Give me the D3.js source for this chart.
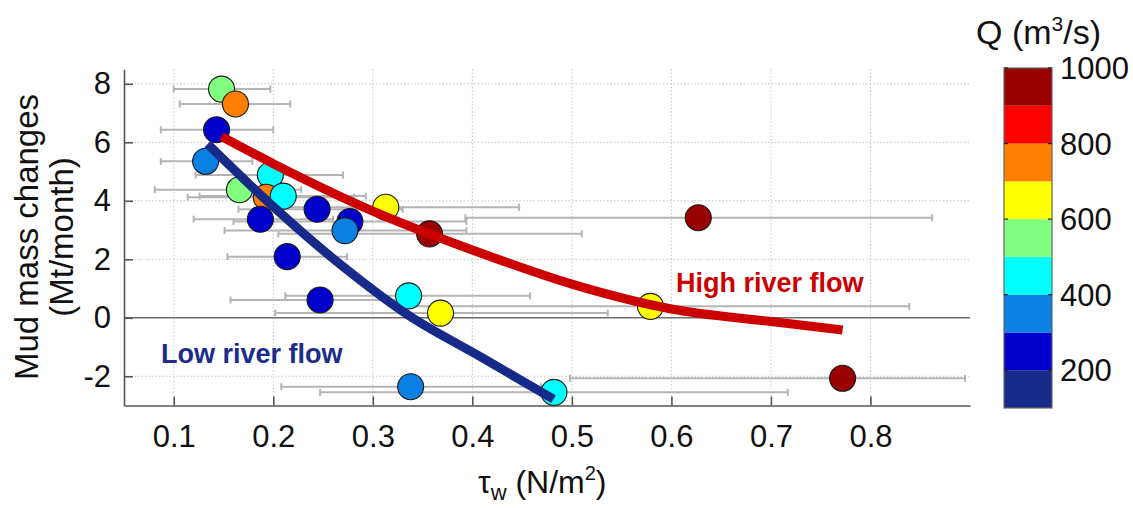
<!DOCTYPE html>
<html>
<head>
<meta charset="utf-8">
<script src="https://cdn.jsdelivr.net/npm/d3@7"></script>
<style>
  body { margin: 0; background: #fff; }
  text { font-family: "Liberation Sans", Arial, Helvetica, sans-serif; }
</style>
</head>
<body>
<svg id="chart" width="1133" height="508"></svg>
<script>
// Wave-induced bed shear stress (N/m2): mean and range per month
const tauW  = [0.148, 0.162, 0.143, 0.132, 0.197, 0.166, 0.193, 0.210, 0.244, 0.187, 0.277, 0.272, 0.214, 0.313, 0.357, 0.627, 0.247, 0.336, 0.368, 0.579, 0.338, 0.482, 0.772];
const tauLo = [0.100, 0.106, 0.087, 0.087, 0.122, 0.081, 0.114, 0.126, 0.165, 0.120, 0.160, 0.151, 0.154, 0.210, 0.205, 0.393, 0.157, 0.212, 0.202, 0.320, 0.208, 0.247, 0.498];
const tauHi = [0.197, 0.217, 0.200, 0.179, 0.270, 0.228, 0.281, 0.293, 0.330, 0.260, 0.394, 0.394, 0.274, 0.447, 0.510, 0.862, 0.340, 0.458, 0.536, 0.839, 0.469, 0.717, 0.895];
// Monthly mud mass change (Mt/month)
const mudChange = [7.82, 7.31, 6.43, 5.35, 4.88, 4.38, 4.12, 4.16, 3.71, 3.37, 3.29, 2.98, 2.09, 3.78, 2.87, 3.42, 0.61, 0.75, 0.16, 0.39, -2.36, -2.55, -2.07];
// Mean river discharge Q (m3/s)
const riverQ = [550, 750, 250, 350, 450, 550, 750, 450, 250, 250, 250, 350, 250, 650, 950, 950, 250, 450, 650, 650, 350, 450, 950];

// Fitted trends
const highFlowTau = [0.148, 0.20, 0.30, 0.40, 0.50, 0.60, 0.70, 0.772];
const highFlowMud = [6.20, 5.27, 3.65, 2.32, 1.15, 0.30, -0.13, -0.42];
const lowFlowTau  = [0.134, 0.20, 0.270, 0.335, 0.408, 0.4815];
const lowFlowMud  = [5.94, 3.80, 1.75, 0.10, -1.33, -2.78];

// Axis ticks
const xTicks = [0.1, 0.2, 0.3, 0.4, 0.5, 0.6, 0.7, 0.8];
const yTicks = [-2, 0, 2, 4, 6, 8];

// Discharge colour classes (100 m3/s wide, 100 to 1000)
const qBreaks = [200, 300, 400, 500, 600, 700, 800, 900];
const qColors = ["#162a8a", "#0000cc", "#0a80e2", "#00ffff", "#80ff80", "#ffff00", "#ff8000", "#ff0000", "#990000"];
const qTicks  = [200, 400, 600, 800, 1000];

const svg = d3.select("#chart");

const x = d3.scaleLinear().domain([0.05, 0.9]).range([124, 970]);
const y = d3.scaleLinear().domain([-3, 8.5]).range([405.5, 69.2]);
const qColor = d3.scaleThreshold().domain(qBreaks).range(qColors);

// Dotted grid
const grid = svg.append("g");
grid.selectAll("line.gx").data(xTicks).join("line")
  .attr("x1", d => x(d)).attr("x2", d => x(d))
  .attr("y1", y.range()[1]).attr("y2", y.range()[0])
  .attr("stroke", "#c4c4c4").attr("stroke-width", 1).attr("stroke-dasharray", "1.5,2");
grid.selectAll("line.gy").data(yTicks.filter(d => d !== 0)).join("line")
  .attr("x1", x.range()[0]).attr("x2", x.range()[1])
  .attr("y1", d => y(d)).attr("y2", d => y(d))
  .attr("stroke", "#c4c4c4").attr("stroke-width", 1).attr("stroke-dasharray", "1.5,2");

// Zero line
svg.append("line")
  .attr("x1", x.range()[0]).attr("x2", x.range()[1])
  .attr("y1", y(0)).attr("y2", y(0))
  .attr("stroke", "#6e6e6e").attr("stroke-width", 1.6);

// Axes
const xAxis = svg.append("g").attr("transform", `translate(0,${y.range()[0]})`)
  .call(d3.axisBottom(x).tickValues(xTicks).tickSize(-9).tickSizeOuter(0).tickPadding(19).tickFormat(d3.format(".1f")));
const yAxis = svg.append("g").attr("transform", `translate(${x.range()[0]},0)`)
  .call(d3.axisLeft(y).tickValues(yTicks).tickSize(-9).tickSizeOuter(0).tickPadding(13).tickFormat(d => String(d)));
[xAxis, yAxis].forEach(g => {
  g.select(".domain").attr("stroke", "#555").attr("stroke-width", 1.6);
  g.selectAll(".tick line").attr("stroke", "#555").attr("stroke-width", 1.6);
  g.selectAll(".tick text").attr("fill", "#111").style("font-size", "31px");
});

// Horizontal range bars
const bars = svg.append("g").attr("stroke", "#b4b4b4").attr("stroke-width", 2).attr("fill", "none");
tauW.forEach((t, i) => {
  const yy = y(mudChange[i]);
  const x0 = x(tauLo[i]), x1 = Math.min(x(tauHi[i]), x.range()[1]);
  bars.append("line").attr("x1", x0).attr("x2", x1).attr("y1", yy).attr("y2", yy);
  bars.append("line").attr("x1", x0).attr("x2", x0).attr("y1", yy - 3.5).attr("y2", yy + 3.5);
  if (x(tauHi[i]) <= x.range()[1]) {
    bars.append("line").attr("x1", x1).attr("x2", x1).attr("y1", yy - 3.5).attr("y2", yy + 3.5);
  }
});

// Monthly points coloured by discharge
svg.append("g").selectAll("circle").data(tauW.map((t, i) => i)).join("circle")
  .attr("cx", i => x(tauW[i]))
  .attr("cy", i => y(mudChange[i]))
  .attr("r", 13)
  .attr("fill", i => qColor(riverQ[i]))
  .attr("stroke", "#1a1a1a").attr("stroke-width", 1.1);

// Trend lines
const trend = d3.line().x(d => x(d[0])).y(d => y(d[1])).curve(d3.curveMonotoneX);
svg.append("path")
  .attr("d", trend(highFlowTau.map((t, i) => [t, highFlowMud[i]])))
  .attr("fill", "none").attr("stroke", "#cc0000").attr("stroke-width", 9);
svg.append("path")
  .attr("d", trend(lowFlowTau.map((t, i) => [t, lowFlowMud[i]])))
  .attr("fill", "none").attr("stroke", "#172a8a").attr("stroke-width", 9);

svg.append("text").attr("x", 676).attr("y", 292)
  .attr("fill", "#cc0000").style("font-size", "27px").style("font-weight", "bold")
  .text("High river flow");
svg.append("text").attr("x", 161).attr("y", 363)
  .attr("fill", "#1c2c8c").style("font-size", "27px").style("font-weight", "bold")
  .text("Low river flow");

// Axis titles
svg.append("g").attr("transform", "translate(26,237) rotate(-90)")
  .append("text").attr("text-anchor", "middle").attr("dy", "0.35em")
  .style("font-size", "33px").attr("fill", "#111").text("Mud mass changes");
svg.append("g").attr("transform", "translate(61,237) rotate(-90)")
  .append("text").attr("text-anchor", "middle").attr("dy", "0.35em")
  .style("font-size", "33px").attr("fill", "#111").text("(Mt/month)");

const xTitle = svg.append("text").attr("x", 478).attr("y", 493)
  .style("font-size", "32px").attr("fill", "#111");
xTitle.append("tspan").text("τ");
xTitle.append("tspan").attr("dy", 7).style("font-size", "22px").text("w");
xTitle.append("tspan").attr("dy", -7).text(" (N/m");
xTitle.append("tspan").attr("dy", -13).style("font-size", "20px").text("2");
xTitle.append("tspan").attr("dy", 13).text(")");

// Colour bar
const cbX = 1004, cbW = 48;
const qScale = d3.scaleLinear().domain([100, 1000]).range([408, 68]);
const classes = [100].concat(qBreaks);
const cb = svg.append("g");
cb.selectAll("rect").data(classes).join("rect")
  .attr("x", cbX).attr("width", cbW)
  .attr("y", d => qScale(d + 100)).attr("height", d => qScale(d) - qScale(d + 100))
  .attr("fill", d => qColor(d + 50));
cb.append("rect").attr("x", cbX).attr("y", qScale(1000)).attr("width", cbW)
  .attr("height", qScale(100) - qScale(1000)).attr("fill", "none").attr("stroke", "#666").attr("stroke-width", 1.2);
cb.selectAll("line.tl").data(qTicks).join("line")
  .attr("x1", cbX).attr("x2", cbX + 4).attr("y1", d => qScale(d)).attr("y2", d => qScale(d))
  .attr("stroke", "#222").attr("stroke-width", 1.2);
cb.selectAll("line.tr").data(qTicks).join("line")
  .attr("x1", cbX + cbW - 4).attr("x2", cbX + cbW).attr("y1", d => qScale(d)).attr("y2", d => qScale(d))
  .attr("stroke", "#222").attr("stroke-width", 1.2);
cb.selectAll("text").data(qTicks).join("text")
  .attr("x", 1060).attr("y", d => qScale(d)).attr("dy", "0.36em")
  .style("font-size", "31px").attr("fill", "#111").text(d => d);

const qTitle = svg.append("text").attr("x", 976).attr("y", 44)
  .style("font-size", "34px").attr("fill", "#111");
qTitle.append("tspan").text("Q (m");
qTitle.append("tspan").attr("dy", -13).style("font-size", "21px").text("3");
qTitle.append("tspan").attr("dy", 13).text("/s)");
</script>
</body>
</html>
